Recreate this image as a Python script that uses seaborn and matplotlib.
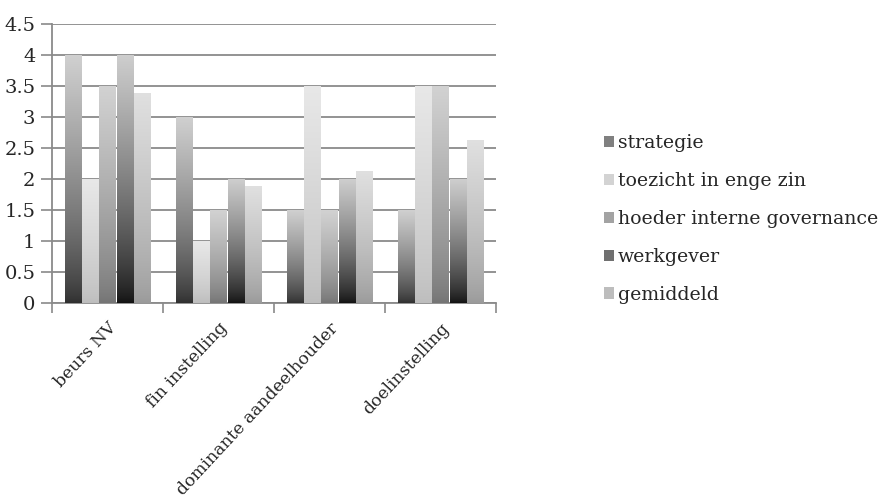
import numpy as np
import pandas as pd
import matplotlib
matplotlib.use("Agg")
import matplotlib.pyplot as plt
from matplotlib.colors import to_rgb
from matplotlib.patches import Patch
import seaborn as sns

categories = ["beurs NV", "fin instelling", "dominante aandeelhouder", "doelinstelling"]
series = ["strategie", "toezicht in enge zin", "hoeder interne governance", "werkgever", "gemiddeld"]
strategie = [4.0, 3.0, 1.5, 1.5]
toezicht = [2.0, 1.0, 3.5, 3.5]
hoeder = [3.5, 1.5, 1.5, 3.5]
werkgever = [4.0, 2.0, 2.0, 2.0]
gemiddeld = [3.375, 1.875, 2.125, 2.625]
y_ticks = [0, 0.5, 1, 1.5, 2, 2.5, 3, 3.5, 4, 4.5]

# bottom / top colours of each series' vertical gradient
grad_bottom = ["#2f2f2f", "#bdbdbd", "#747474", "#121212", "#9a9a9a"]
grad_top = ["#d0d0d0", "#e8e8e8", "#d2d2d2", "#cecece", "#e0e0e0"]

values = [strategie, toezicht, hoeder, werkgever, gemiddeld]
df = pd.DataFrame({
    "categorie": np.repeat([categories], len(series), axis=0).ravel(),
    "reeks": np.repeat(series, len(categories)),
    "waarde": np.concatenate(values),
})

sns.set_theme(style="white")
plt.rcParams["font.family"] = ["DejaVu Serif"]
FS = 14

fig = plt.figure(figsize=(8.88, 4.99), dpi=100)
ax = fig.add_axes([0.0586, 0.393, 0.5, 0.559])

mid_colors = [tuple((np.array(to_rgb(b)) + np.array(to_rgb(t))) / 2) for b, t in zip(grad_bottom, grad_top)]
sns.barplot(data=df, x="categorie", y="waarde", hue="reeks", order=categories,
            hue_order=series, palette=mid_colors, width=0.78, linewidth=0,
            legend=False, ax=ax, zorder=3)

# replace the flat fill of each bar with a vertical gradient
for i, cont in enumerate(ax.containers):
    c0 = np.array(to_rgb(grad_bottom[i]))
    c1 = np.array(to_rgb(grad_top[i]))
    t = np.linspace(0, 1, 256)[:, None, None] ** 0.75
    img = c0 + (c1 - c0) * t
    for rect in cont:
        x0, y0 = rect.get_x(), rect.get_y()
        w, h = rect.get_width(), rect.get_height()
        ax.imshow(img, extent=[x0 + 0.004, x0 + w - 0.004, y0, y0 + h], origin="lower",
                  aspect="auto", interpolation="bilinear", zorder=3)
        rect.set_alpha(0)

ax.set_xlim(-0.5, len(categories) - 0.5)
ax.set_ylim(0, 4.5)
ax.set_yticks(y_ticks)
ax.set_yticklabels([f"{v:g}" for v in y_ticks], fontsize=FS)
ax.yaxis.grid(True, color="#8a8a8a", linewidth=1.3, zorder=0)
ax.set_axisbelow(True)
ax.tick_params(axis="y", which="major", left=True, length=8, width=1.2, color="#8a8a8a", pad=4)

ax.set_xticks(range(len(categories)))
ax.set_xticklabels(categories, rotation=47, ha="right", rotation_mode="anchor", fontsize=12.3)
ax.set_xticks(np.arange(-0.5, len(categories), 1.0), minor=True)
ax.tick_params(axis="x", which="major", length=0, pad=12)
ax.tick_params(axis="x", which="minor", bottom=True, length=7, width=1.2, color="#8a8a8a")

for side in ["top", "right"]:
    ax.spines[side].set_visible(False)
for side in ["left", "bottom"]:
    ax.spines[side].set_color("#8a8a8a")
    ax.spines[side].set_linewidth(1.3)
ax.set_xlabel("")
ax.set_ylabel("")

handles = [Patch(facecolor=c, edgecolor="none") for c in mid_colors]
fig.legend(handles, series, loc="center left", bbox_to_anchor=(0.661, 0.561),
           frameon=False, fontsize=13.6, handlelength=0.55, handleheight=0.55,
           handletextpad=0.2, labelspacing=1.05, borderpad=0.4)

fig.savefig("out.png", dpi=100, facecolor="white")
